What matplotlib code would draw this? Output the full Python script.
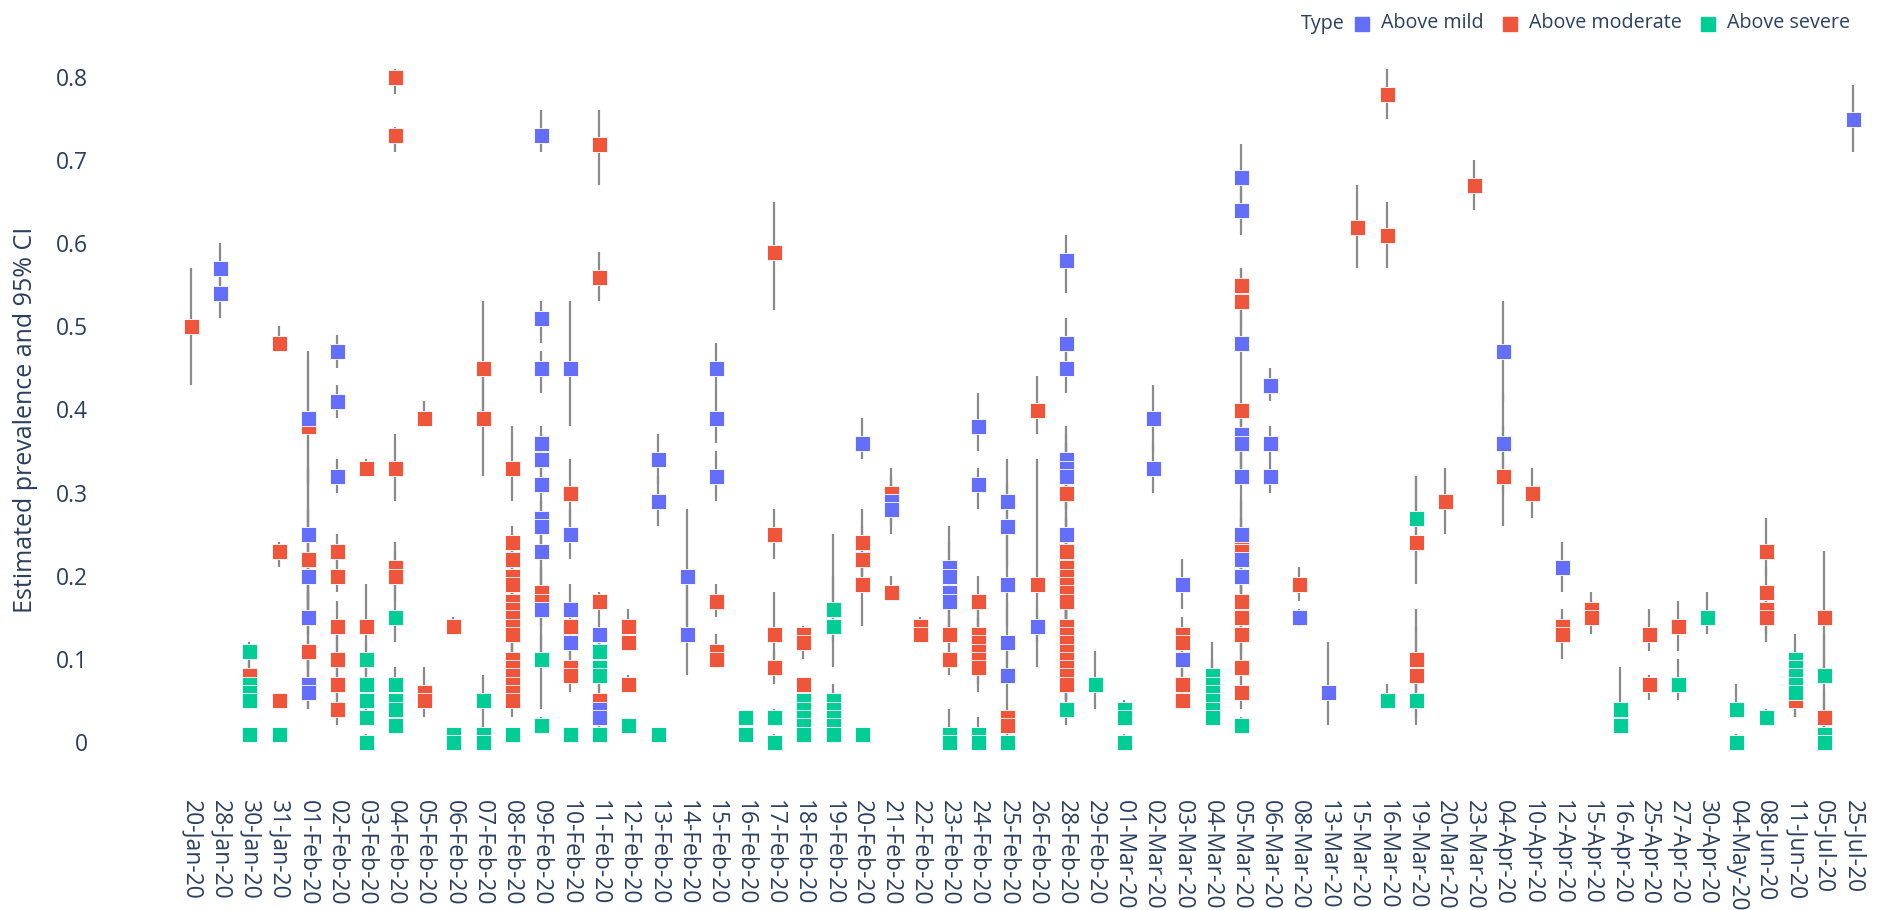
import matplotlib
matplotlib.use("Agg")
import matplotlib.pyplot as plt
from matplotlib.lines import Line2D

plt.rcParams["font.family"] = ["Open Sans", "DejaVu Sans"]

# -----------------------------
# Categories (x axis)
# -----------------------------
dates = [
    "20-Jan-20", "28-Jan-20", "30-Jan-20", "31-Jan-20", "01-Feb-20", "02-Feb-20",
    "03-Feb-20", "04-Feb-20", "05-Feb-20", "06-Feb-20", "07-Feb-20", "08-Feb-20",
    "09-Feb-20", "10-Feb-20", "11-Feb-20", "12-Feb-20", "13-Feb-20", "14-Feb-20",
    "15-Feb-20", "16-Feb-20", "17-Feb-20", "18-Feb-20", "19-Feb-20", "20-Feb-20",
    "21-Feb-20", "22-Feb-20", "23-Feb-20", "24-Feb-20", "25-Feb-20", "26-Feb-20",
    "28-Feb-20", "29-Feb-20", "01-Mar-20", "02-Mar-20", "03-Mar-20", "04-Mar-20",
    "05-Mar-20", "06-Mar-20", "08-Mar-20", "13-Mar-20", "15-Mar-20", "16-Mar-20",
    "19-Mar-20", "20-Mar-20", "23-Mar-20", "04-Apr-20", "10-Apr-20", "12-Apr-20",
    "15-Apr-20", "16-Apr-20", "25-Apr-20", "27-Apr-20", "30-Apr-20", "04-May-20",
    "08-Jun-20", "11-Jun-20", "05-Jul-20", "25-Jul-20",
]

# -----------------------------
# Above mild
# -----------------------------
mild_dates = ["28-Jan-20", "01-Feb-20", "02-Feb-20", "09-Feb-20", "10-Feb-20", "11-Feb-20",
              "13-Feb-20", "14-Feb-20", "15-Feb-20", "20-Feb-20", "21-Feb-20", "23-Feb-20",
              "24-Feb-20", "25-Feb-20", "26-Feb-20", "28-Feb-20", "02-Mar-20", "03-Mar-20",
              "05-Mar-20", "06-Mar-20", "08-Mar-20", "13-Mar-20", "04-Apr-20", "12-Apr-20",
              "25-Jul-20"]
mild_val = [[0.57, 0.54], [0.39, 0.25, 0.20, 0.15, 0.07, 0.06], [0.47, 0.41, 0.32],
            [0.73, 0.51, 0.45, 0.36, 0.34, 0.31, 0.27, 0.26, 0.23, 0.16],
            [0.45, 0.25, 0.16, 0.12], [0.13, 0.04, 0.03], [0.34, 0.29], [0.20, 0.13],
            [0.45, 0.39, 0.32], [0.36], [0.29, 0.28], [0.21, 0.20, 0.18, 0.17],
            [0.38, 0.31], [0.29, 0.26, 0.19, 0.12, 0.08], [0.14],
            [0.58, 0.48, 0.45, 0.34, 0.33, 0.32, 0.25], [0.39, 0.33], [0.19, 0.10],
            [0.68, 0.64, 0.48, 0.37, 0.36, 0.32, 0.25, 0.22, 0.20], [0.43, 0.36, 0.32],
            [0.15], [0.06], [0.47, 0.36], [0.21], [0.75]]
mild_lo = [[0.55, 0.51], [0.31, 0.17, 0.13, 0.09, 0.04, 0.04], [0.45, 0.39, 0.30],
           [0.71, 0.48, 0.42, 0.34, 0.31, 0.28, 0.24, 0.23, 0.20, 0.10],
           [0.38, 0.22, 0.13, 0.10], [0.11, 0.02, 0.01], [0.31, 0.26], [0.13, 0.08],
           [0.42, 0.36, 0.29], [0.34], [0.26, 0.25], [0.17, 0.16, 0.13, 0.12],
           [0.35, 0.28], [0.25, 0.21, 0.14, 0.08, 0.05], [0.12],
           [0.54, 0.45, 0.42, 0.30, 0.29, 0.28, 0.21], [0.35, 0.30], [0.16, 0.08],
           [0.64, 0.61, 0.43, 0.33, 0.32, 0.28, 0.21, 0.18, 0.16], [0.41, 0.34, 0.30],
           [0.14], [0.02], [0.41, 0.30], [0.18], [0.71]]
mild_hi = [[0.60, 0.56], [0.47, 0.33, 0.28, 0.22, 0.12, 0.10], [0.49, 0.43, 0.34],
           [0.76, 0.53, 0.47, 0.38, 0.37, 0.33, 0.29, 0.28, 0.26, 0.24],
           [0.53, 0.28, 0.19, 0.14], [0.15, 0.06, 0.05], [0.37, 0.32], [0.28, 0.20],
           [0.48, 0.42, 0.35], [0.39], [0.32, 0.31], [0.26, 0.24, 0.22, 0.21],
           [0.42, 0.33], [0.34, 0.31, 0.25, 0.17, 0.12], [0.16],
           [0.61, 0.51, 0.48, 0.38, 0.37, 0.36, 0.29], [0.43, 0.36], [0.22, 0.13],
           [0.72, 0.68, 0.53, 0.41, 0.40, 0.36, 0.29, 0.26, 0.24], [0.45, 0.38, 0.34],
           [0.16], [0.12], [0.53, 0.42], [0.24], [0.79]]

# -----------------------------
# Above moderate
# -----------------------------
mod_dates = ["20-Jan-20", "30-Jan-20", "31-Jan-20", "01-Feb-20", "02-Feb-20", "03-Feb-20",
             "04-Feb-20", "05-Feb-20", "06-Feb-20", "07-Feb-20", "08-Feb-20", "09-Feb-20",
             "10-Feb-20", "11-Feb-20", "12-Feb-20", "15-Feb-20", "17-Feb-20", "18-Feb-20",
             "20-Feb-20", "21-Feb-20", "22-Feb-20", "23-Feb-20", "24-Feb-20", "25-Feb-20",
             "26-Feb-20", "28-Feb-20", "03-Mar-20", "05-Mar-20", "08-Mar-20", "15-Mar-20",
             "16-Mar-20", "19-Mar-20", "20-Mar-20", "23-Mar-20", "04-Apr-20", "10-Apr-20",
             "12-Apr-20", "15-Apr-20", "25-Apr-20", "27-Apr-20", "08-Jun-20", "11-Jun-20",
             "05-Jul-20"]
mod_val = [[0.50], [0.08], [0.48, 0.23, 0.05], [0.38, 0.22, 0.11],
           [0.23, 0.20, 0.14, 0.10, 0.07, 0.04], [0.33, 0.14],
           [0.80, 0.73, 0.33, 0.21, 0.20], [0.39, 0.06, 0.05], [0.14], [0.45, 0.39],
           [0.33, 0.24, 0.22, 0.20, 0.19, 0.17, 0.16, 0.15, 0.14, 0.13,
            0.10, 0.09, 0.08, 0.07, 0.06, 0.05],
           [0.18, 0.17], [0.30, 0.14, 0.09, 0.08], [0.72, 0.56, 0.17, 0.05],
           [0.14, 0.12, 0.07], [0.17, 0.11, 0.10], [0.59, 0.25, 0.13, 0.09],
           [0.13, 0.12, 0.07], [0.24, 0.22, 0.19], [0.30, 0.18], [0.14, 0.13],
           [0.13, 0.10], [0.17, 0.13, 0.12, 0.11, 0.10, 0.09], [0.03, 0.02],
           [0.40, 0.19],
           [0.30, 0.23, 0.21, 0.20, 0.19, 0.18, 0.17, 0.14, 0.13, 0.12, 0.11, 0.10,
            0.09, 0.08, 0.07],
           [0.13, 0.12, 0.07, 0.05],
           [0.55, 0.53, 0.40, 0.24, 0.23, 0.17, 0.15, 0.13, 0.09, 0.06],
           [0.19], [0.62], [0.78, 0.61], [0.24, 0.10, 0.08], [0.29], [0.67], [0.32],
           [0.30], [0.14, 0.13], [0.16, 0.15], [0.13, 0.07], [0.14],
           [0.23, 0.18, 0.16, 0.15], [0.05], [0.15, 0.03]]
mod_lo = [[0.43], [0.06], [0.47, 0.21, 0.04], [0.30, 0.15, 0.06],
          [0.21, 0.18, 0.11, 0.07, 0.05, 0.02], [0.32, 0.11],
          [0.78, 0.71, 0.29, 0.18, 0.17], [0.38, 0.04, 0.03], [0.13], [0.39, 0.32],
          [0.29, 0.21, 0.19, 0.17, 0.16, 0.14, 0.13, 0.12, 0.11, 0.10,
           0.08, 0.07, 0.06, 0.05, 0.04, 0.03],
          [0.15, 0.14], [0.26, 0.11, 0.07, 0.06], [0.67, 0.53, 0.15, 0.03],
          [0.12, 0.11, 0.06], [0.15, 0.10, 0.09], [0.52, 0.22, 0.10, 0.07],
          [0.12, 0.10, 0.06], [0.20, 0.18, 0.14], [0.27, 0.17], [0.13, 0.12],
          [0.11, 0.08], [0.14, 0.10, 0.09, 0.08, 0.07, 0.06], [0.02, 0.01],
          [0.37, 0.09],
          [0.26, 0.19, 0.17, 0.16, 0.15, 0.14, 0.13, 0.10, 0.09, 0.08, 0.07, 0.06,
           0.05, 0.05, 0.04],
          [0.11, 0.10, 0.05, 0.04],
          [0.52, 0.49, 0.38, 0.20, 0.19, 0.13, 0.11, 0.10, 0.06, 0.04],
          [0.17], [0.57], [0.75, 0.57], [0.19, 0.06, 0.02], [0.25], [0.64], [0.26],
          [0.27], [0.12, 0.10], [0.14, 0.13], [0.11, 0.05], [0.11],
          [0.20, 0.15, 0.13, 0.12], [0.03], [0.08, 0.00]]
mod_hi = [[0.57], [0.10], [0.50, 0.24, 0.05], [0.46, 0.30, 0.18],
          [0.25, 0.22, 0.17, 0.13, 0.09, 0.06], [0.34, 0.19],
          [0.81, 0.74, 0.37, 0.24, 0.23], [0.41, 0.09, 0.07], [0.15], [0.53, 0.45],
          [0.38, 0.26, 0.25, 0.23, 0.22, 0.20, 0.19, 0.18, 0.17, 0.16,
           0.12, 0.11, 0.10, 0.09, 0.08, 0.07],
          [0.21, 0.20], [0.34, 0.17, 0.11, 0.10], [0.76, 0.59, 0.18, 0.07],
          [0.16, 0.14, 0.08], [0.19, 0.13, 0.12], [0.65, 0.28, 0.18, 0.11],
          [0.14, 0.13, 0.07], [0.28, 0.26, 0.23], [0.33, 0.20], [0.15, 0.14],
          [0.15, 0.12], [0.20, 0.16, 0.15, 0.14, 0.13, 0.12], [0.05, 0.04],
          [0.44, 0.34],
          [0.34, 0.27, 0.25, 0.24, 0.23, 0.22, 0.21, 0.18, 0.17, 0.16, 0.15, 0.14,
           0.13, 0.12, 0.10],
          [0.15, 0.14, 0.09, 0.06],
          [0.57, 0.57, 0.43, 0.28, 0.27, 0.21, 0.19, 0.17, 0.12, 0.09],
          [0.21], [0.67], [0.81, 0.65], [0.32, 0.16, 0.14], [0.33], [0.70], [0.38],
          [0.33], [0.16, 0.15], [0.18, 0.17], [0.16, 0.08], [0.17],
          [0.27, 0.21, 0.19, 0.18], [0.07], [0.23, 0.06]]

# -----------------------------
# Above severe
# -----------------------------
sev_dates = ["30-Jan-20", "31-Jan-20", "03-Feb-20", "04-Feb-20", "06-Feb-20", "07-Feb-20",
             "08-Feb-20", "09-Feb-20", "10-Feb-20", "11-Feb-20", "12-Feb-20", "13-Feb-20",
             "16-Feb-20", "17-Feb-20", "18-Feb-20", "19-Feb-20", "20-Feb-20", "23-Feb-20",
             "24-Feb-20", "25-Feb-20", "28-Feb-20", "29-Feb-20", "01-Mar-20", "04-Mar-20",
             "05-Mar-20", "16-Mar-20", "19-Mar-20", "16-Apr-20", "27-Apr-20", "30-Apr-20",
             "04-May-20", "08-Jun-20", "11-Jun-20", "05-Jul-20"]
sev_val = [[0.11, 0.07, 0.06, 0.05, 0.01], [0.01], [0.10, 0.07, 0.05, 0.03, 0.00],
           [0.15, 0.07, 0.05, 0.04, 0.02], [0.01, 0.00], [0.05, 0.01, 0.00], [0.01],
           [0.10, 0.02], [0.01], [0.11, 0.09, 0.08, 0.01], [0.02], [0.01],
           [0.03, 0.01], [0.03, 0.00], [0.05, 0.04, 0.03, 0.02, 0.01],
           [0.16, 0.14, 0.05, 0.04, 0.03, 0.02, 0.01], [0.01], [0.01, 0.00],
           [0.01, 0.00], [0.00], [0.04], [0.07], [0.04, 0.03, 0.00],
           [0.08, 0.07, 0.06, 0.05, 0.04, 0.03], [0.02], [0.05], [0.27, 0.05],
           [0.04, 0.02], [0.07], [0.15], [0.04, 0.00], [0.03],
           [0.10, 0.09, 0.08, 0.07, 0.06], [0.08, 0.01, 0.00]]
sev_lo = [[0.09, 0.05, 0.04, 0.04, 0.00], [0.00], [0.08, 0.05, 0.04, 0.02, 0.00],
          [0.12, 0.05, 0.03, 0.02, 0.01], [0.00, 0.00], [0.02, 0.00, 0.00], [0.00],
          [0.04, 0.01], [0.00], [0.09, 0.07, 0.06, 0.00], [0.01], [0.00],
          [0.02, 0.00], [0.02, 0.00], [0.04, 0.03, 0.02, 0.01, 0.00],
          [0.12, 0.09, 0.03, 0.02, 0.02, 0.01, 0.00], [0.00], [0.00, 0.00],
          [0.00, 0.00], [0.00], [0.02], [0.04], [0.03, 0.02, 0.00],
          [0.05, 0.04, 0.04, 0.03, 0.02, 0.02], [0.01], [0.04], [0.22, 0.03],
          [0.02, 0.01], [0.05], [0.13], [0.03, 0.00], [0.03],
          [0.08, 0.07, 0.06, 0.05, 0.03], [0.04, 0.00, 0.00]]
sev_hi = [[0.12, 0.09, 0.08, 0.07, 0.01], [0.01], [0.12, 0.09, 0.07, 0.05, 0.01],
          [0.18, 0.09, 0.07, 0.06, 0.04], [0.01, 0.01], [0.08, 0.02, 0.01], [0.01],
          [0.13, 0.03], [0.01], [0.13, 0.11, 0.10, 0.01], [0.02], [0.01],
          [0.03, 0.01], [0.04, 0.01], [0.05, 0.05, 0.04, 0.03, 0.02],
          [0.25, 0.20, 0.07, 0.06, 0.05, 0.04, 0.02], [0.01], [0.04, 0.01],
          [0.03, 0.01], [0.01], [0.06], [0.11], [0.05, 0.04, 0.01],
          [0.12, 0.10, 0.09, 0.07, 0.06, 0.05], [0.03], [0.07], [0.32, 0.08],
          [0.09, 0.03], [0.10], [0.18], [0.07, 0.01], [0.04],
          [0.13, 0.11, 0.10, 0.09, 0.08], [0.13, 0.02, 0.00]]

series = [
    ("Above mild", "#636EFA", mild_dates, mild_val, mild_lo, mild_hi, 4),
    ("Above moderate", "#EF553B", mod_dates, mod_val, mod_lo, mod_hi, 2),
    ("Above severe", "#00CC96", sev_dates, sev_val, sev_lo, sev_hi, 3),
]

text_color = "#2a3f5f"
W, H = 1877, 910

fig = plt.figure(figsize=(W / 100, H / 100), dpi=100)
ax = fig.add_axes([0.0533, 0.139, 0.9419, 0.822])

for name, color, s_dates, s_val, s_lo, s_hi, z in series:
    xs, ys, lo, hi = [], [], [], []
    for d, vals, los, his in zip(s_dates, s_val, s_lo, s_hi):
        xi = dates.index(d)
        for v, l, h in zip(vals, los, his):
            xs.append(xi)
            ys.append(v)
            lo.append(v - l)
            hi.append(h - v)
    ax.errorbar(xs, ys, yerr=[lo, hi], fmt="none", ecolor="#8a8a8a",
                elinewidth=1.6, capsize=0, zorder=1)
    ax.plot(xs, ys, "s", color=color, markersize=10.8, markeredgecolor="white",
            markeredgewidth=0.6, linestyle="none", zorder=z)

ax.set_xlim(-3.12, 57.51)
ax.set_ylim(-0.05, 0.85)
ax.set_xticks(range(len(dates)))
ax.set_xticklabels(dates, rotation=-90, ha="center", va="top")
ax.set_yticks([i / 10 for i in range(9)])
ax.set_yticklabels(["0"] + [f"{i / 10:.1f}" for i in range(1, 9)])
ax.tick_params(axis="x", length=0, pad=12, labelsize=16.5, labelcolor=text_color)
ax.tick_params(axis="y", length=0, pad=8.5, labelsize=16.5, labelcolor=text_color)
for sp in ax.spines.values():
    sp.set_visible(False)

ax.set_ylabel("Estimated prevalence and 95% CI", fontsize=18, color=text_color)
ax.yaxis.set_label_coords(-0.035, 0.486)

# legend (horizontal, top right) placed by hand
ly = 1 - 23.5 / H
fig.text(1301 / W, ly, "Type", fontsize=14.2, color=text_color, ha="left", va="center")
sq_x = [1362, 1510, 1708]
txt_x = [1381, 1529, 1727]
for (name, color, *_), sx, tx in zip(series, sq_x, txt_x):
    fig.add_artist(Line2D([sx / W], [ly], transform=fig.transFigure, marker="s",
                          markersize=10, color=color, linestyle="none"))
    fig.text(tx / W, ly, name, fontsize=14.2, color=text_color, ha="left", va="center")

fig.savefig("out.png", dpi=100)
